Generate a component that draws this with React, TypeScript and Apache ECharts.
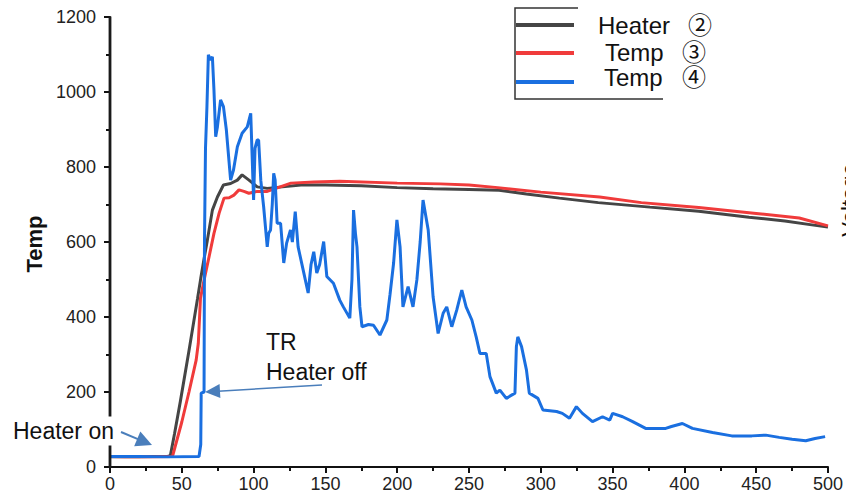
import React, { useEffect, useRef } from "react";
import * as echarts from "echarts";

// Time (s) / value pairs
const heater2: [number, number][] = [
  [0, 27], [10, 28], [20, 27], [30, 28], [40, 28], [42, 30], [45, 90], [49, 175], [55, 310],
  [61, 450], [63.2, 503], [65.5, 555], [67.8, 605], [71.3, 685], [74.8, 720], [79, 752],
  [84, 756], [88.7, 765], [92, 779], [96.8, 765], [102.5, 747], [109.5, 743], [120, 747],
  [133, 752], [150, 752], [175, 750], [200, 745], [225, 742], [250, 740], [271, 738],
  [290, 728], [313, 717], [340, 705], [376, 693], [410, 682], [445, 666], [470, 656],
  [490, 645], [500, 640],
];

const temp3: [number, number][] = [
  [0, 28], [10, 27], [20, 28], [30, 27], [43.5, 28], [50, 120], [55, 200], [60, 285],
  [61.5, 330], [63, 450], [65.5, 498], [69, 561], [72.4, 623], [76, 677], [79.4, 717],
  [83, 718], [86.3, 725], [89.8, 739], [93.3, 735], [96.7, 730], [102.5, 735], [109.5, 735],
  [114, 741], [126, 757], [142, 760], [160, 762], [200, 757], [230, 755], [250, 752],
  [270, 745], [300, 733], [341, 720], [370, 705], [410, 692], [450, 676], [480, 664],
  [500, 643],
];

const temp4: [number, number][] = [
  [0, 28], [20, 28], [40, 27], [62, 28], [63.2, 60], [63.5, 197], [65.5, 200], [65.8, 600],
  [66.5, 850], [67.5, 960], [68.5, 1099], [70, 1085], [71.3, 1094], [72.4, 1005], [73.6, 881],
  [74.8, 907], [77, 979], [79, 961], [81, 900], [84, 765], [86, 792], [88.7, 854], [92, 890],
  [95.6, 907], [98, 943], [100, 712], [101, 850], [102.5, 872], [103.5, 872], [105, 765],
  [107, 694], [109.5, 587], [110.5, 623], [111.8, 632], [113, 700], [114, 783], [115, 765],
  [116.4, 650], [118.8, 650], [121, 544], [123, 597], [125.7, 632], [127, 600], [129, 681],
  [131, 587], [135, 517], [138, 464], [140, 540], [141.9, 574], [144, 517], [146, 540],
  [148.8, 601], [151, 508], [155.6, 490], [160, 445], [162.5, 427], [167, 397], [168.5, 500],
  [169.6, 685], [171, 620], [172, 587], [174, 427], [175.5, 374], [180, 380], [183.5, 378],
  [188, 352], [192.8, 392], [195, 460], [197.5, 544], [199.8, 659], [202, 587], [204, 427],
  [207.6, 481], [211, 427], [213.7, 499], [216, 600], [218, 712], [221.6, 632], [225, 454],
  [228.5, 356], [232, 410], [234.5, 427], [238, 374], [241.5, 419], [245, 472], [248, 427],
  [252, 392], [255, 347], [257.6, 303], [262, 303], [264.6, 241], [269, 197], [271.5, 205],
  [276, 183], [282, 197], [283, 321], [284, 347], [286.6, 321], [290, 259], [292, 197],
  [298, 183], [301.5, 152], [311, 148], [315, 143], [320, 130], [324.8, 161], [329, 143],
  [336, 121], [343, 134], [348, 125], [350, 143], [357, 134], [364, 121], [373, 103],
  [387, 103], [391, 108], [398.6, 116], [405.6, 103], [419.6, 92], [433, 83], [447, 83],
  [456.7, 85], [466, 79], [475, 74], [484.5, 70], [491, 76], [498, 81],
];

const seriesNames = ["Heater", "Temp", "Temp"];
const seriesMarks = ["②", "③", "④"];
const seriesColors = ["#454545", "#f03b3b", "#1a6fe0"];

const FONT = "Liberation Sans, Arial, Noto Sans CJK KR, sans-serif";
const ARROW = "#4a7ebb";

function arrow(x1: number, y1: number, x2: number, y2: number, len: number, half: number, w: number) {
  const dx = x2 - x1, dy = y2 - y1;
  const d = Math.hypot(dx, dy);
  const ux = dx / d, uy = dy / d;
  const bx = x2 - ux * len, by = y2 - uy * len;
  const px = -uy, py = ux;
  return [
    { type: "line", z: 100, shape: { x1, y1, x2: bx + ux * 2, y2: by + uy * 2 }, style: { stroke: ARROW, lineWidth: w } },
    {
      type: "polygon", z: 100,
      shape: { points: [[x2, y2], [bx + px * half, by + py * half], [bx - px * half, by - py * half]] },
      style: { fill: ARROW },
    },
  ];
}

export default function App() {
  const ref = useRef<HTMLDivElement>(null);
  useEffect(() => {
    if (!ref.current) return;
    const chart = echarts.init(ref.current, undefined, { renderer: "svg" });
    const datasets = [heater2, temp3, temp4];
    const tickCommon = {
      axisTick: { show: true, length: 6, lineStyle: { color: "#111", width: 2 } },
      minorTick: { show: true, splitNumber: 2, length: 4, lineStyle: { color: "#111", width: 2 } },
      splitLine: { show: false },
    };
    const legendY = [25, 53, 82];
    const legendTextX = [598, 605, 604];
    const legendTextY = [25, 52, 77];
    const markX = [700, 694, 694];
    const legendGraphics: any[] = [];
    seriesNames.forEach((n, i) => {
      legendGraphics.push({
        type: "line", z: 100,
        shape: { x1: 516, y1: legendY[i], x2: 574, y2: legendY[i] },
        style: { stroke: seriesColors[i], lineWidth: 4 },
      });
      legendGraphics.push({
        type: "text", z: 100, x: legendTextX[i], y: legendTextY[i],
        style: { text: n, font: `24px ${FONT}`, fill: "#111", textVerticalAlign: "middle" },
      });
      legendGraphics.push({
        type: "text", z: 100, x: markX[i], y: legendTextY[i],
        style: {
          text: seriesMarks[i], font: `24px ${FONT}`, fill: "#111",
          textAlign: "center", textVerticalAlign: "middle",
        },
      });
    });
    chart.setOption({
      animation: false,
      backgroundColor: "#fff",
      grid: { left: 110, right: 17, top: 17, bottom: 36 },
      xAxis: {
        type: "value", min: 0, max: 500, interval: 50,
        axisLine: { show: true, onZero: false, lineStyle: { color: "#111", width: 2 } },
        ...tickCommon,
        axisLabel: { color: "#222", fontSize: 18, fontFamily: FONT, margin: 8 },
      },
      yAxis: {
        type: "value", min: 0, max: 1200, interval: 200, position: "left",
        axisLine: { show: true, onZero: false, lineStyle: { color: "#111", width: 2 } },
        ...tickCommon,
        axisLabel: {
          color: "#222", fontSize: 18, fontFamily: FONT, margin: 14,
          formatter: (v: number) => String(v),
        },
      },
      series: datasets.map((d, i) => ({
        name: `${seriesNames[i]} ${seriesMarks[i]}`,
        type: "line",
        data: d,
        showSymbol: false,
        symbol: "none",
        lineStyle: { color: seriesColors[i], width: 3 },
        itemStyle: { color: seriesColors[i] },
        z: 2 + i,
      })),
      graphic: [
        {
          // left axis spine
          type: "rect", z: 50,
          shape: { x: 108.6, y: 16.5, width: 2.8, height: 451.5 },
          style: { fill: "#1a1a1a" },
        },
        {
          type: "text", z: 100, x: 34, y: 244, rotation: Math.PI / 2,
          style: { text: "Temp", font: `bold 22px ${FONT}`, fill: "#111", textAlign: "center", textVerticalAlign: "middle" },
        },
        {
          type: "text", z: 100, x: 849, y: 200, rotation: Math.PI / 2,
          style: { text: "Voltage", font: `22px ${FONT}`, fill: "#111", textAlign: "center", textVerticalAlign: "middle" },
        },
        {
          type: "polyline", z: 100,
          shape: { points: [[578, 8], [515, 8], [515, 99], [663, 99]] },
          style: { stroke: "#333", lineWidth: 1.5, fill: null },
        },
        ...legendGraphics,
        {
          type: "text", z: 110, x: 13, y: 431,
          style: {
            text: "Heater on", font: `23px ${FONT}`, fill: "#111", textVerticalAlign: "middle",
            backgroundColor: "#fff", padding: [3, 1, 3, 0],
          },
        },
        ...arrow(121, 432, 152, 445, 16, 8, 2),
        {
          type: "text", z: 100, x: 266, y: 342,
          style: { text: "TR", font: `23px ${FONT}`, fill: "#111", textVerticalAlign: "middle" },
        },
        {
          type: "text", z: 100, x: 266, y: 372,
          style: { text: "Heater off", font: `23px ${FONT}`, fill: "#111", textVerticalAlign: "middle" },
        },
        ...arrow(322, 385, 205, 392, 15, 7, 1.6),
      ],
    });
    return () => chart.dispose();
  }, []);
  return (
    <div
      ref={ref}
      style={{ position: "fixed", left: 0, top: 0, width: 846, height: 503, background: "#fff" }}
    />
  );
}
